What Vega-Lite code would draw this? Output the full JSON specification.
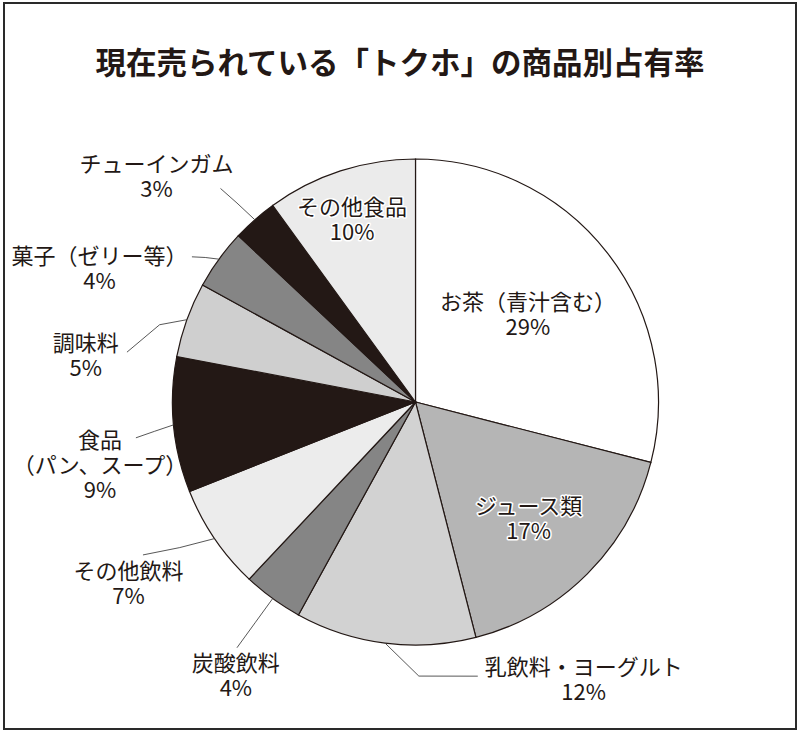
{
  "$schema": "https://vega.github.io/schema/vega-lite/v6.json",
  "width": 792,
  "height": 726,
  "autosize": {"type": "none"},
  "padding": {"left": 4, "top": 3, "right": 4, "bottom": 5},
  "background": "white",
  "config": {"view": {"stroke": "#2a2a2a", "strokeWidth": 2}, "font": "Noto Sans CJK JP"},
  "title": {
    "text": "現在売られている「トクホ」の商品別占有率",
    "fontSize": 30.5,
    "fontWeight": "bold",
    "color": "#231815",
    "anchor": "middle",
    "offset": -77,
    "font": "Noto Sans CJK JP"
  },
  "data": {
    "values": [
      {"category": "お茶（青汁含む）", "value": 29},
      {"category": "ジュース類", "value": 17},
      {"category": "乳飲料・ヨーグルト", "value": 12},
      {"category": "炭酸飲料", "value": 4},
      {"category": "その他飲料", "value": 7},
      {"category": "食品（パン、スープ）", "value": 9},
      {"category": "調味料", "value": 5},
      {"category": "菓子（ゼリー等）", "value": 4},
      {"category": "チューインガム", "value": 3},
      {"category": "その他食品", "value": 10}
    ]
  },
  "transform": [
    {"window": [{"op": "row_number", "as": "idx"}]},
    {"window": [{"op": "sum", "field": "value", "as": "cum"}], "sort": [{"field": "idx"}], "frame": [null, 0]},
    {"calculate": "(datum.cum - datum.value / 2) * 3.6", "as": "midDeg"},
    {"calculate": "{'お茶（青汁含む）': {la: 0.2, lr: 0.584, g: null, h: false}, 'ジュース類': {la: 1, lr: 0.67, g: null, h: true}, '乳飲料・ヨーグルト': {la: -38.3, lr: 1.34, g: [[0, 1.0], [-7.9, 1.128], [-20, 1.157]], h: false}, '炭酸飲料': {la: -2.8, lr: 1.35, g: [[0, 1.0], [0, 1.12], [0, 1.25]], h: false}, 'その他飲料': {la: 1.7, lr: 1.40, g: [[0, 1.0], [2.5, 1.14], [4.9, 1.286]], h: false}, '食品（パン、スープ）': {la: -6.1, lr: 1.325, g: [[0, 1.0], [-1, 1.08], [-1.9, 1.16]], h: false}, '調味料': {la: -11.9, lr: 1.37, g: [[0, 1.0], [-3, 1.10], [-10, 1.205]], h: false}, '菓子（ゼリー等）': {la: -13.3, lr: 1.41, g: [[0, 1.0], [-1.5, 1.05], [-3, 1.097]], h: false}, 'チューインガム': {la: -7.7, lr: 1.41, g: [[0, 1.0], [-0.5, 1.1], [-1, 1.19]], h: false}, 'その他食品': {la: -1.3, lr: 0.79, g: null, h: true}}[datum.category]", "as": "lay"},
    {"calculate": "replace(datum.category, '食品（', '食品|（') + '|' + datum.value + '%'", "as": "labelText"},
    {"calculate": "length(split(datum.labelText, '|'))", "as": "nLines"},
    {"calculate": "(datum.midDeg + datum.lay.la) * PI / 180", "as": "labRad"},
    {"calculate": "datum.lay.lr * sin(datum.labRad)", "as": "lx"},
    {"calculate": "datum.lay.lr * cos(datum.labRad) + (datum.nLines - 1) * 12.5 / 243", "as": "ly"}
  ],
  "layer": [
    {
      "mark": {"type": "arc", "outerRadius": 243, "stroke": "#231815", "strokeWidth": 1.2},
      "encoding": {
        "theta": {"field": "value", "type": "quantitative", "stack": true},
        "order": {"field": "idx", "type": "quantitative"},
        "color": {
          "field": "category",
          "type": "nominal",
          "legend": null,
          "scale": {
            "domain": ["お茶（青汁含む）", "ジュース類", "乳飲料・ヨーグルト", "炭酸飲料", "その他飲料", "食品（パン、スープ）", "調味料", "菓子（ゼリー等）", "チューインガム", "その他食品"],
            "range": ["#ffffff", "#b5b5b5", "#d2d2d2", "#858585", "#ececec", "#231815", "#cfcfcf", "#858585", "#231815", "#ebebeb"]
          }
        },
        "x": {"datum": 0, "type": "quantitative", "scale": {"domain": [-1.6934, 1.5658], "nice": false, "zero": false}, "axis": null},
        "y": {"datum": 0, "type": "quantitative", "scale": {"domain": [-1.3457, 1.642], "nice": false, "zero": false}, "axis": null}
      }
    },
    {
      "transform": [
        {"filter": "isArray(datum.lay.g)"},
        {"calculate": "datum.lay.g", "as": "g"},
        {"calculate": "[0, 1, 2]", "as": "gi"},
        {"flatten": ["g", "gi"]},
        {"calculate": "(datum.midDeg + datum.g[0]) * PI / 180", "as": "ga"},
        {"calculate": "datum.g[1] * sin(datum.ga)", "as": "gx"},
        {"calculate": "datum.g[1] * cos(datum.ga)", "as": "gy"}
      ],
      "mark": {"type": "line", "color": "#444444", "strokeWidth": 0.9, "interpolate": "linear"},
      "encoding": {
        "x": {"field": "gx", "type": "quantitative"},
        "y": {"field": "gy", "type": "quantitative"},
        "detail": {"field": "category", "type": "nominal"},
        "order": {"field": "gi", "type": "quantitative"}
      }
    },
    {
      "transform": [{"filter": "datum.lay.h"}],
      "mark": {"type": "text", "align": "center", "baseline": "middle", "lineBreak": "|", "fontSize": 22, "lineHeight": 25, "font": "Noto Sans CJK JP", "fill": "white", "stroke": "white", "strokeWidth": 3, "strokeJoin": "round"},
      "encoding": {
        "x": {"field": "lx", "type": "quantitative"},
        "y": {"field": "ly", "type": "quantitative"},
        "text": {"field": "labelText", "type": "nominal"}
      }
    },
    {
      "mark": {"type": "text", "align": "center", "baseline": "middle", "lineBreak": "|", "fontSize": 22, "lineHeight": 25, "font": "Noto Sans CJK JP", "fill": "#231815"},
      "encoding": {
        "x": {"field": "lx", "type": "quantitative"},
        "y": {"field": "ly", "type": "quantitative"},
        "text": {"field": "labelText", "type": "nominal"}
      }
    }
  ]
}
